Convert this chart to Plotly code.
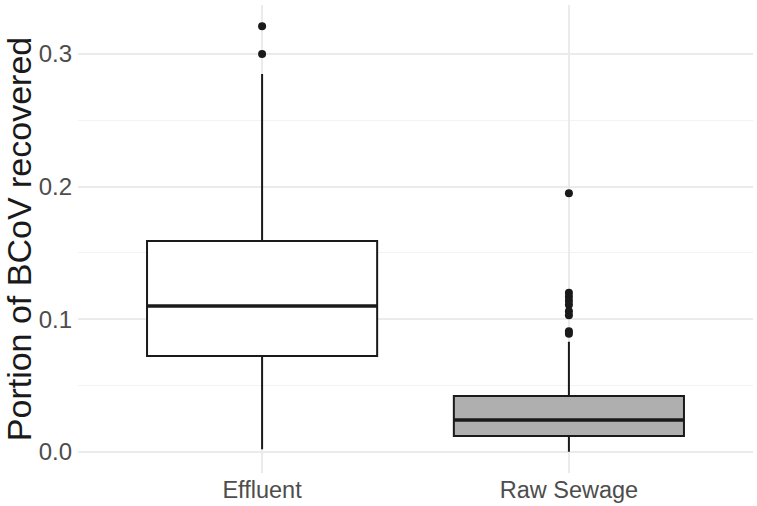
import plotly.graph_objects as go

categories = ["Effluent", "Raw Sewage"]
positions = [1, 2]
q1 = [0.0723, 0.012]
median = [0.110, 0.024]
q3 = [0.159, 0.042]
lower_whisker = [0.002, 0.0]
upper_whisker = [0.285, 0.083]
fills = ["#FFFFFF", "#AFAFAF"]
outliers = {
    "Effluent": [0.321, 0.300],
    "Raw Sewage": [0.195, 0.120, 0.117, 0.114, 0.111, 0.106, 0.103, 0.091, 0.089],
}
y_ticks = [0.0, 0.1, 0.2, 0.3]
y_tick_labels = ["0.0", "0.1", "0.2", "0.3"]
box_width = 0.75

fig = go.Figure()
for i, cat in enumerate(categories):
    fig.add_trace(go.Box(
        x=[positions[i]], q1=[q1[i]], median=[median[i]], q3=[q3[i]],
        lowerfence=[lower_whisker[i]], upperfence=[upper_whisker[i]],
        fillcolor=fills[i], line=dict(color="#1A1A1A", width=2),
        whiskerwidth=0, width=box_width, boxpoints=False, showlegend=False,
        hoverinfo="skip",
    ))
    # thicker median line as in ggplot
    fig.add_trace(go.Scatter(
        x=[positions[i] - box_width / 2, positions[i] + box_width / 2],
        y=[median[i], median[i]], mode="lines",
        line=dict(color="#1A1A1A", width=3.5), showlegend=False, hoverinfo="skip",
    ))
    fig.add_trace(go.Scatter(
        x=[positions[i]] * len(outliers[cat]), y=outliers[cat], mode="markers",
        marker=dict(color="#1A1A1A", size=8), showlegend=False, hoverinfo="skip",
    ))

fig.update_layout(
    width=757, height=506,
    margin=dict(l=78, r=4, t=5, b=33, autoexpand=False),
    paper_bgcolor="white", plot_bgcolor="white",
    font=dict(family="Liberation Sans, Arial, sans-serif", color="#4D4D4D"),
    xaxis=dict(
        range=[0.4, 2.6], tickvals=positions, ticktext=categories,
        showgrid=True, gridcolor="#EBEBEB", gridwidth=2, zeroline=False,
        tickfont=dict(size=23.5, color="#4D4D4D"), ticks="", showline=False,
        automargin=False,
    ),
    yaxis=dict(
        range=[-0.016, 0.337], tickvals=y_ticks, ticktext=y_tick_labels,
        showgrid=True, gridcolor="#EBEBEB", gridwidth=2, zeroline=False,
        minor=dict(tickvals=[0.05, 0.15, 0.25], showgrid=True, gridcolor="#F3F3F3", gridwidth=1),
        tickfont=dict(size=24, color="#4D4D4D"), ticks="", showline=False,
        ticklabelstandoff=5,
        automargin=False,
        title=dict(text="Portion of BCoV recovered", font=dict(size=34, color="#1A1A1A"), standoff=4),
    ),
)

fig.write_html("out.html", config={"displayModeBar": False},
               post_script="document.body.style.margin='0';")
